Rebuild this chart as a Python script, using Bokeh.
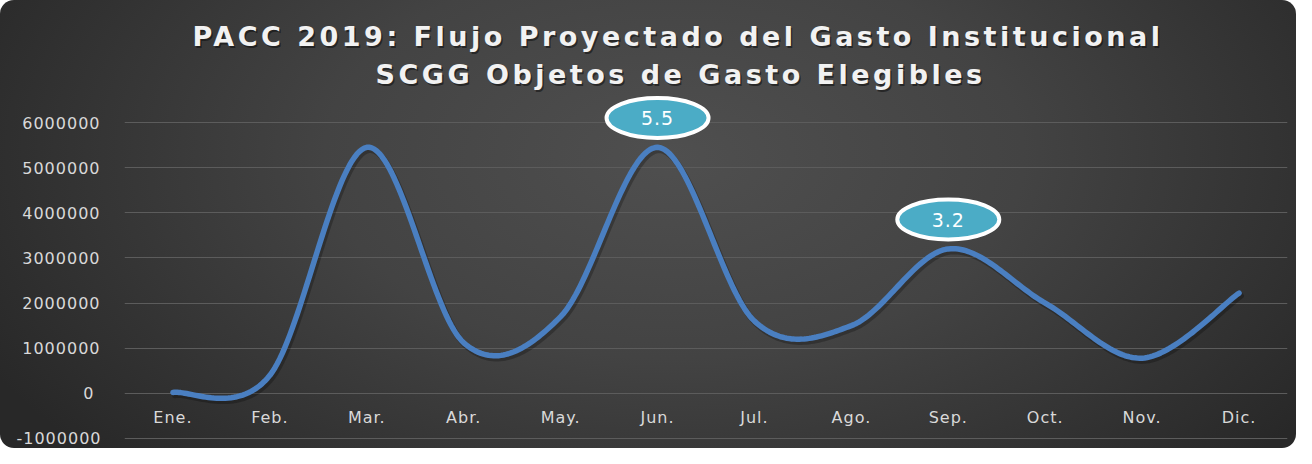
import numpy as np
from bokeh.plotting import figure
from bokeh.layouts import column
from bokeh.models import Range1d, FixedTicker, NumeralTickFormatter, ColumnDataSource, Label
from bokeh.core.properties import value
from bokeh.embed import file_html
from bokeh.resources import INLINE

# ---- data ----
months = ["Ene.", "Feb.", "Mar.", "Abr.", "May.", "Jun.", "Jul.", "Ago.", "Sep.", "Oct.", "Nov.", "Dic."]
flujo = [20000, 400000, 5450000, 1120000, 1700000, 5450000, 1600000, 1500000, 3200000, 2000000, 780000, 2220000]
callout_months = ["Jun.", "Sep."]
callout_labels = ["5.5", "3.2"]
y_ticks = [-1000000, 0, 1000000, 2000000, 3000000, 4000000, 5000000, 6000000]
title_lines = ["PACC 2019: Flujo Proyectado del Gasto Institucional",
               "SCGG Objetos de Gasto Elegibles"]

FONT = "DejaVu Sans"
W = 1296

# ---- smooth (Excel-like bezier) curve through the data ----
xs = np.arange(len(months), dtype=float)
ys = np.array(flujo, dtype=float)
pts = np.column_stack([xs, ys])
n = len(pts)
cx, cy = [], []
t = np.linspace(0, 1, 40)
for i in range(n - 1):
    p0 = pts[max(i - 1, 0)]
    p1 = pts[i]
    p2 = pts[i + 1]
    p3 = pts[min(i + 2, n - 1)]
    c1 = p1 + (p2 - p0) / 6.0
    c2 = p2 - (p3 - p1) / 6.0
    seg = ((1 - t) ** 3)[:, None] * p1 + (3 * (1 - t) ** 2 * t)[:, None] * c1 \
        + (3 * (1 - t) * t ** 2)[:, None] * c2 + (t ** 3)[:, None] * p2
    if i > 0:
        seg = seg[1:]
    cx.extend(seg[:, 0])
    cy.extend(seg[:, 1])
cx = np.array(cx)
cy = np.array(cy)

# ---- title strip (its own svg figure so its letters can be spaced out) ----
tf = figure(width=W, height=92, output_backend="svg", toolbar_location=None,
            x_axis_location=None, y_axis_location=None,
            min_border=0, min_border_left=0, min_border_right=0,
            min_border_top=0, min_border_bottom=0)
tf.border_fill_alpha = 0
tf.background_fill_alpha = 0
tf.outline_line_color = None
tf.grid.visible = False
tf.styles = {"letter-spacing": "3.5px"}
# left-anchored (letter spacing grows text to the right); x relative to the aligned frame
for line, xpos, ypos in zip(title_lines, [68, 251], [56, 18]):
    tf.add_layout(Label(x=xpos + 1.5, y=ypos - 2, x_units="screen", y_units="screen", text=line,
                        text_align="left", text_baseline="middle", text_font=FONT,
                        text_font_style="bold", text_font_size="27px",
                        text_color="black", text_alpha=0.45))
    tf.add_layout(Label(x=xpos, y=ypos, x_units="screen", y_units="screen", text=line,
                        text_align="left", text_baseline="middle", text_font=FONT,
                        text_font_style="bold", text_font_size="27px",
                        text_color="#f2f2f2"))

# ---- main chart ----
p = figure(width=W, height=356, output_backend="svg", toolbar_location=None,
           x_axis_location=None,
           x_range=Range1d(-0.5, len(months) - 0.5),
           y_range=Range1d(-1133000, 6665000),
           min_border_left=124, min_border_right=9, min_border_top=0, min_border_bottom=4)
p.border_fill_alpha = 0
p.background_fill_alpha = 0
p.outline_line_color = None
p.styles = {"letter-spacing": "1px"}

p.yaxis.ticker = FixedTicker(ticks=y_ticks)
p.yaxis.formatter = NumeralTickFormatter(format="0")
p.yaxis.axis_line_color = None
p.yaxis.major_tick_line_color = None
p.yaxis.minor_tick_line_color = None
p.yaxis.major_tick_out = 0
p.yaxis.major_tick_in = 0
p.yaxis.major_label_standoff = 31
p.yaxis.major_label_text_font = FONT
p.yaxis.major_label_text_font_size = "16px"
p.yaxis.major_label_text_color = "#d9d9d9"
p.xgrid.visible = False
p.ygrid.ticker = FixedTicker(ticks=y_ticks)
p.ygrid.grid_line_color = "#5c5c5c"
p.ygrid.grid_line_width = 1

# category labels (axis crossing at 0)
lab_src = ColumnDataSource(dict(x=xs, y=[0] * len(months), t=months))
p.text(x="x", y="y", text="t", source=lab_src, x_offset=-2, y_offset=24,
       text_font=value(FONT), text_font_size="16px", text_color="#d9d9d9",
       text_align="center", text_baseline="middle")

# line shadow + line
p.line(cx + 0.02, cy - 60000, line_color="black", line_alpha=0.25, line_width=6, line_cap="round")
p.line(cx, cy, line_color="#4a7fc1", line_width=5.5, line_cap="round", line_join="round")

# callouts
idx = [months.index(m) for m in callout_months]
c_src = ColumnDataSource(dict(
    x=[xs[i] for i in idx],
    y=[flujo[i] + 650000 for i in idx],
    t=callout_labels,
))
p.ellipse(x="x", y="y", width=102, height=40, width_units="screen", height_units="screen",
          source=c_src, fill_color="#4bacc6", line_color="white", line_width=4)
p.text(x="x", y="y", text="t", source=c_src, x_offset=-1.5, text_font=value(FONT),
       text_font_size="19px", text_color="white", text_align="center", text_baseline="middle")

layout = column(tf, p, spacing=0)
layout.styles = {
    "background": "radial-gradient(ellipse 60% 100% at 52% 35%, #4f4f4f 0%, #434343 45%, #282828 100%)",
    "border-radius": "14px",
    "overflow": "hidden",
}

open("out.html", "w").write(file_html(layout, INLINE))
